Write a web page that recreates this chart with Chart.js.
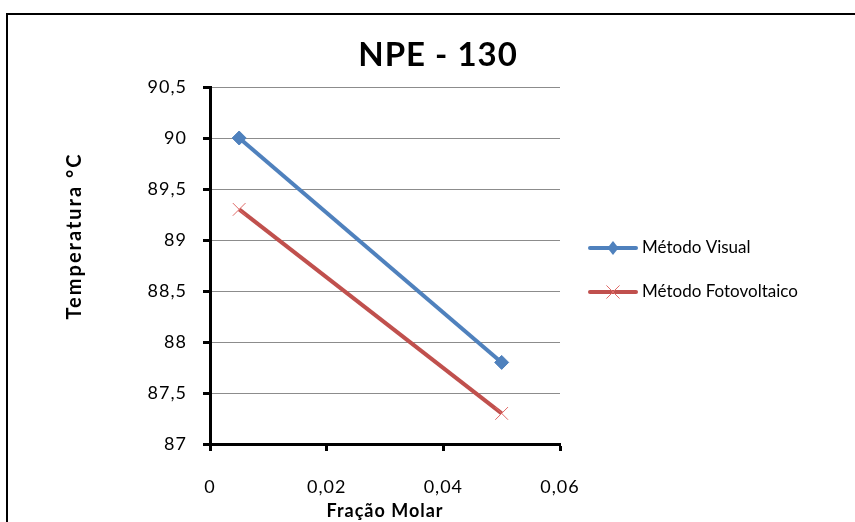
<!DOCTYPE html>
<html><head><meta charset="utf-8">
<script src="https://cdn.jsdelivr.net/npm/chart.js@4/dist/chart.umd.min.js"></script>
<style>html,body{margin:0;padding:0;background:#fff;}#wrap{width:855px;height:522px;position:relative;}</style>
</head><body><div id="wrap"><canvas id="c" width="855" height="522"></canvas></div>
<script>
const chartTitle = "NPE - 130";
const xTitle = "Fração Molar";
const yTitle = "Temperatura °C";
const seriesNames = ["Método Visual", "Método Fotovoltaico"];
const fracaoMolar = [0.005, 0.05];
const visual = [90, 87.8];
const fotovoltaico = [89.3, 87.3];
const xTicks = [0, 0.02, 0.04, 0.06];
const yTicks = [87, 87.5, 88, 88.5, 89, 89.5, 90, 90.5];

const FONT = "Lato, 'Open Sans', sans-serif";
const fmt = v => String(+v.toFixed(3)).replace('.', ',');

const deco = {
  id: 'deco',
  beforeDraw(chart) {
    const ctx = chart.ctx;
    ctx.save();
    ctx.fillStyle = '#fff';
    ctx.fillRect(0, 0, chart.width, chart.height);
    ctx.strokeStyle = '#000';
    ctx.lineWidth = 2;
    ctx.strokeRect(7, 14, 900, 600);
    ctx.restore();
    ctx.letterSpacing = '1px';
  },
  afterDraw(chart) {
    const ctx = chart.ctx;
    ctx.save();
    ctx.fillStyle = '#000';
    ctx.letterSpacing = '1px';
    ctx.font = "bold 33px " + FONT;
    ctx.textAlign = 'center';
    ctx.textBaseline = 'middle';
    ctx.fillText(chartTitle, 438, 55);
    // y axis title
    ctx.save();
    ctx.translate(75, 236);
    ctx.rotate(-Math.PI / 2);
    ctx.letterSpacing = '2px';
    ctx.font = "bold 20px " + FONT;
    ctx.fillText(yTitle, 0, 0);
    ctx.restore();
    ctx.letterSpacing = '0px';
    // legend
    const ys = [248, 292];
    chart.data.datasets.forEach((ds, i) => {
      const y = ys[i];
      ctx.strokeStyle = ds.borderColor;
      ctx.lineWidth = ds.borderWidth;
      ctx.lineCap = 'round';
      ctx.beginPath(); ctx.moveTo(590, y); ctx.lineTo(636, y); ctx.stroke();
      ctx.fillStyle = ds.pointBackgroundColor;
      ctx.strokeStyle = ds.pointBorderColor;
      ctx.lineWidth = ds.pointBorderWidth;
      ctx.beginPath();
      if (ds.pointStyle === 'rectRot') {
        const r = ds.pointRadius;
        ctx.moveTo(613, y - r); ctx.lineTo(613 + r * 0.8, y); ctx.lineTo(613, y + r); ctx.lineTo(613 - r * 0.8, y); ctx.closePath();
        ctx.fill();
      } else {
        const r = ds.pointRadius * 0.7;
        ctx.moveTo(613 - r, y - r); ctx.lineTo(613 + r, y + r);
        ctx.moveTo(613 + r, y - r); ctx.lineTo(613 - r, y + r);
        ctx.stroke();
      }
      ctx.fillStyle = '#000';
      ctx.font = "17px " + FONT;
      ctx.textAlign = 'left';
      ctx.fillText(ds.label, 642, y);
    });
    ctx.restore();
  }
};

new Chart(document.getElementById('c'), {
  type: 'line',
  data: {
    datasets: [
      {
        label: seriesNames[0],
        data: fracaoMolar.map((x, i) => ({x, y: visual[i]})),
        borderColor: '#4F81BD', backgroundColor: '#4F81BD',
        borderWidth: 4,
        pointStyle: 'rectRot', pointRadius: 7,
        pointBackgroundColor: '#4F81BD', pointBorderColor: '#4F81BD', pointBorderWidth: 1
      },
      {
        label: seriesNames[1],
        data: fracaoMolar.map((x, i) => ({x, y: fotovoltaico[i]})),
        borderColor: '#C0504D', backgroundColor: '#C0504D',
        borderWidth: 4,
        pointStyle: 'crossRot', pointRadius: 9,
        pointBackgroundColor: '#C0504D', pointBorderColor: '#E06B68', pointBorderWidth: 1
      }
    ]
  },
  options: {
    responsive: false,
    animation: false,
    layout: { padding: { left: 0, top: 87, right: 295, bottom: 0 } },
    plugins: { legend: { display: false }, title: { display: false }, tooltip: { enabled: false } },
    scales: {
      x: {
        type: 'linear', min: 0, max: 0.06,
        afterBuildTicks: s => { s.ticks = xTicks.map(v => ({value: v})); },
        afterFit: s => { s.height = 78; },
        ticks: { color: '#000', font: { family: FONT, size: 18 }, padding: 25, callback: v => fmt(v), maxRotation: 0 },
        grid: { drawOnChartArea: false, tickLength: 7, tickColor: '#000', tickWidth: 3 },
        border: { color: '#000', width: 3 },
        title: { display: true, text: xTitle, color: '#000', font: { family: FONT, size: 18, weight: 'bold' }, padding: { top: 0, bottom: 0 } }
      },
      y: {
        type: 'linear', min: 87, max: 90.5,
        afterBuildTicks: s => { s.ticks = yTicks.map(v => ({value: v})); },
        afterFit: s => { s.width = 210; },
        ticks: { color: '#000', font: { family: FONT, size: 18 }, padding: 16, callback: v => fmt(v) },
        grid: { color: '#8c8c8c', lineWidth: 1, tickLength: 7, tickColor: '#000', tickWidth: 3 },
        border: { color: '#000', width: 3 },
        title: { display: false, text: yTitle }
      }
    }
  },
  plugins: [deco]
});
</script></body></html>
